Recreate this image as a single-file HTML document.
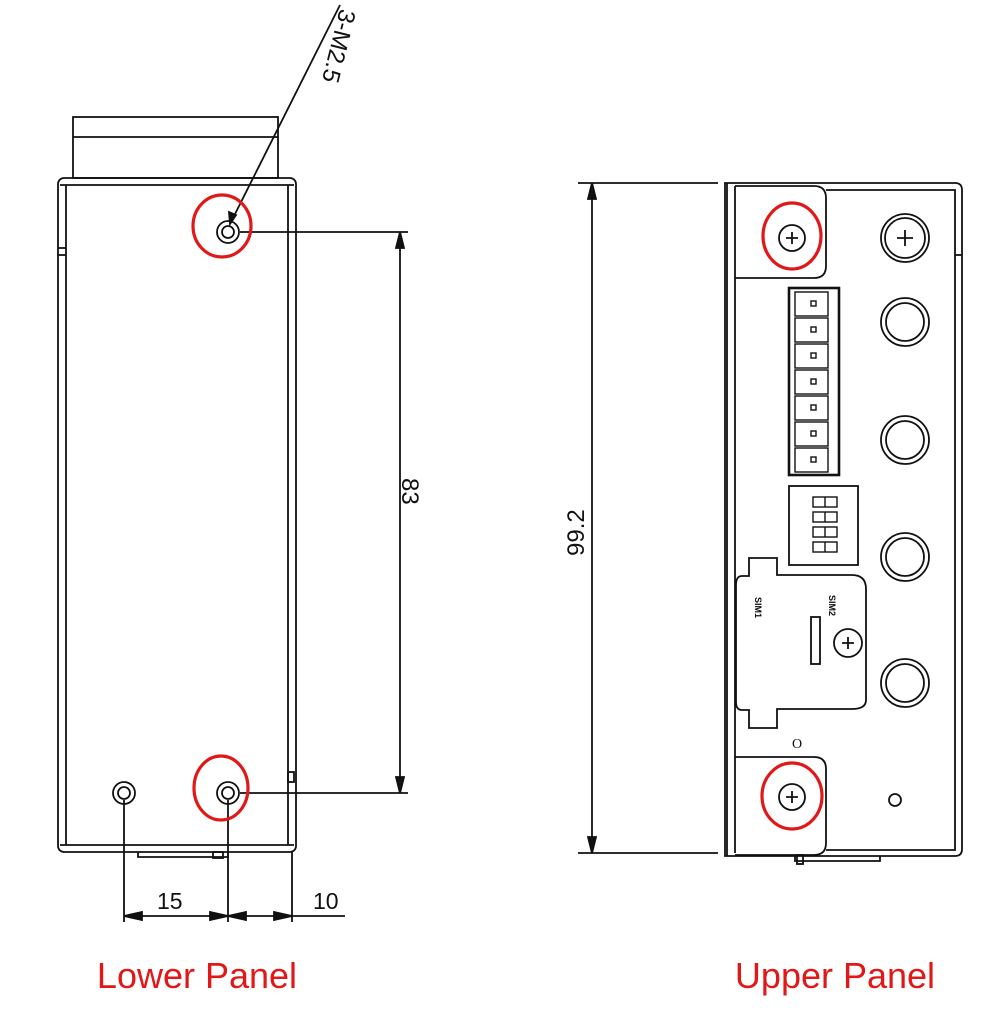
<!DOCTYPE html>
<html><head><meta charset="utf-8"><style>body{margin:0;background:#fff}svg{display:block}</style></head>
<body>
<svg width="1000" height="1023" viewBox="0 0 1000 1023" xmlns="http://www.w3.org/2000/svg" font-family="Liberation Sans, sans-serif">
<g fill="none" stroke="#111" stroke-width="1.8">
<!-- LEFT PANEL -->
<rect x="73" y="117" width="205" height="61"/>
<line x1="73" y1="137" x2="278" y2="137"/>
<rect x="58" y="178" width="238" height="674" rx="6"/>
<line x1="60" y1="185" x2="294" y2="185"/>
<line x1="66" y1="185" x2="66" y2="845"/>
<line x1="288" y1="185" x2="288" y2="845"/>
<line x1="60" y1="845" x2="294" y2="845"/>
<line x1="58" y1="248" x2="66" y2="248"/><line x1="58" y1="255" x2="66" y2="255"/>
<rect x="288" y="772" width="6" height="10"/>
<polyline points="138,852 138,857 228,857 228,852"/>
<rect x="213" y="852" width="10" height="6"/>
<circle cx="228" cy="232" r="11"/><circle cx="228" cy="232" r="6"/>
<circle cx="124" cy="793" r="11"/><circle cx="124" cy="793" r="6"/>
<circle cx="228" cy="793" r="11"/><circle cx="228" cy="793" r="6"/>
<line x1="230" y1="224" x2="340" y2="5"/>
<polygon points="230,224 229,212 236,215" fill="#111"/>
<line x1="240" y1="232" x2="408" y2="232"/>
<line x1="240" y1="793" x2="408" y2="793"/>
<line x1="400" y1="232" x2="400" y2="793"/>
<polygon points="400,232 396,248 404,248" fill="#111"/>
<polygon points="400,793 396,777 404,777" fill="#111"/>
<line x1="124" y1="800" x2="124" y2="922"/>
<line x1="228" y1="800" x2="228" y2="922"/>
<line x1="292" y1="852" x2="292" y2="922"/>
<line x1="124" y1="916" x2="345" y2="916"/>
<polygon points="124,916 142,912 142,920" fill="#111"/>
<polygon points="228,916 210,912 210,920" fill="#111"/>
<polygon points="228,916 246,912 246,920" fill="#111"/>
<polygon points="292,916 274,912 274,920" fill="#111"/>
<!-- RIGHT PANEL -->
<path d="M725 183 H955 Q962 183 962 190 V849 Q962 856 955 856 H725 Z"/>
<line x1="735" y1="186" x2="735" y2="853"/>
<line x1="727" y1="183" x2="727" y2="856"/>
<polyline points="826,190 955,190 955,850 826,850"/>
<line x1="955" y1="255" x2="962" y2="255"/>
<path d="M735 186 H814 Q826 186 826 198 V266 Q826 278 814 278 H735"/>
<path d="M735 757 H814 Q826 757 826 769 V843 Q826 855 814 855 H735"/>
<circle cx="792" cy="238" r="13"/>
<path d="M786 238 h12 M792 232 v12"/>
<circle cx="792" cy="797" r="13"/>
<path d="M786 797 h12 M792 791 v12"/>
<circle cx="905" cy="238" r="24"/><circle cx="905" cy="238" r="20"/>
<path d="M897 238 h16 M905 230 v16"/>
<circle cx="905" cy="322" r="24"/><circle cx="905" cy="322" r="19"/>
<circle cx="905" cy="440" r="24"/><circle cx="905" cy="440" r="19"/>
<circle cx="905" cy="557" r="24"/><circle cx="905" cy="557" r="19"/>
<circle cx="905" cy="683" r="24"/><circle cx="905" cy="683" r="19"/>
<circle cx="895" cy="800" r="6"/>
<rect x="789" y="288" width="50" height="187" stroke-width="2.6"/>
<g stroke-width="1.4">
<rect x="795" y="292" width="33" height="24"/><rect x="795" y="318" width="33" height="24"/>
<rect x="795" y="344" width="33" height="24"/><rect x="795" y="370" width="33" height="24"/>
<rect x="795" y="396" width="33" height="24"/><rect x="795" y="422" width="33" height="24"/>
<rect x="795" y="448" width="33" height="24"/>
<rect x="811" y="301" width="5" height="5"/><rect x="811" y="327" width="5" height="5"/>
<rect x="811" y="353" width="5" height="5"/><rect x="811" y="379" width="5" height="5"/>
<rect x="811" y="405" width="5" height="5"/><rect x="811" y="431" width="5" height="5"/>
<rect x="811" y="457" width="5" height="5"/>
</g>
<rect x="789" y="486" width="69" height="79"/>
<g stroke-width="1.4">
<rect x="813" y="497" width="24" height="10"/><line x1="825" y1="497" x2="825" y2="507"/>
<rect x="813" y="512" width="24" height="10"/><line x1="825" y1="512" x2="825" y2="522"/>
<rect x="813" y="527" width="24" height="10"/><line x1="825" y1="527" x2="825" y2="537"/>
<rect x="813" y="542" width="24" height="10"/><line x1="825" y1="542" x2="825" y2="552"/>
</g>
<path d="M749 558 H777 V575 H852 Q866 575 866 589 V700 Q866 709 852 709 H777 V728 H749 V710 H742 Q736 710 736 702 V585 Q736 576 742 576 H749 Z"/>
<rect x="811" y="617" width="9" height="47"/>
<circle cx="848" cy="643" r="14"/>
<path d="M842 643 h12 M848 637 v12"/>
<line x1="578" y1="183" x2="718" y2="183"/>
<line x1="578" y1="853" x2="718" y2="853"/>
<line x1="592" y1="183" x2="592" y2="853"/>
<polygon points="592,183 588,199 596,199" fill="#111"/>
<polygon points="592,853 588,837 596,837" fill="#111"/>
<polyline points="795,855 795,861 880,861 880,856"/>
<rect x="797" y="855" width="6" height="9"/>
</g>
<!-- red highlights -->
<g fill="none" stroke="#e01818" stroke-width="3.2">
<ellipse cx="222" cy="226" rx="29" ry="31"/>
<ellipse cx="221" cy="788" rx="27" ry="32"/>
<ellipse cx="792" cy="236" rx="29" ry="33"/>
<ellipse cx="792" cy="796" rx="30" ry="33"/>
</g>
<!-- text -->
<g fill="#111">
<text x="0" y="0" font-size="24" transform="translate(340,8) rotate(104)" >3-M2.5</text>
<text x="0" y="0" font-size="24" transform="translate(402,478) rotate(90)">83</text>
<text x="0" y="0" font-size="24" transform="translate(584,556) rotate(-90)">99.2</text>
<text x="157" y="909" font-size="23">15</text>
<text x="313" y="909" font-size="23">10</text>
<text x="0" y="0" font-size="9" font-weight="bold" transform="translate(755,597) rotate(90)">SIM1</text>
<text x="0" y="0" font-size="9" font-weight="bold" transform="translate(829,595) rotate(90)">SIM2</text>
<text x="792" y="748" font-size="14" font-family="Liberation Serif, serif">O</text>
</g>
<text x="197" y="988" font-size="36" fill="#e01818" text-anchor="middle">Lower Panel</text>
<text x="835" y="988" font-size="36" fill="#e01818" text-anchor="middle">Upper Panel</text>
</svg>
</body></html>
